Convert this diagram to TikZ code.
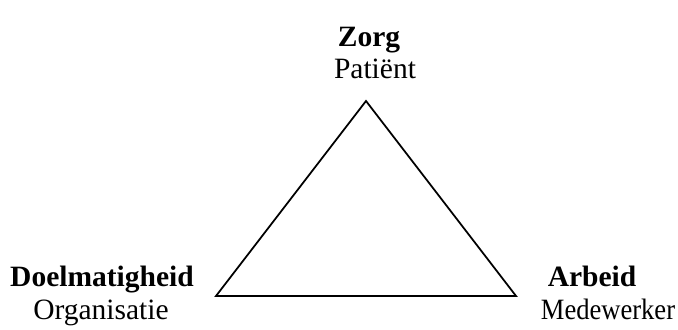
\documentclass[tikz,border=0pt]{standalone}
\usepackage{fontspec}
\setmainfont{Liberation Serif}
\usetikzlibrary{positioning}

\begin{document}
\begin{tikzpicture}[x=0.4pt,y=-0.4pt,
  head/.style={inner sep=0pt,anchor=base,font=\fontsize{11.8}{13}\selectfont\bfseries},
  sub/.style={inner sep=0pt,anchor=base,font=\fontsize{11.8}{13}\selectfont}]
\useasboundingbox (0,0) rectangle (678,330);
% corners of the triangle
\coordinate (top) at (366,101);
\coordinate (left) at (216,296);
\coordinate (right) at (516,296);
\draw[line width=0.7pt,line join=miter] (top) -- (left) -- (right) -- cycle;
% labels
\node[head] (zorg) at (369,47) {Zorg};
\node[sub] (patient) at (375,79) {Patiënt};
\node[head] (doel) at (102,287) {Doelmatigheid};
\node[sub] (org) at (101,320) {Organisatie};
\node[head] (arbeid) at (592,287) {Arbeid};
\node[sub] (mede) at (608,320) {\scalebox{0.9}[1]{Medewerker}};
\end{tikzpicture}
\end{document}
